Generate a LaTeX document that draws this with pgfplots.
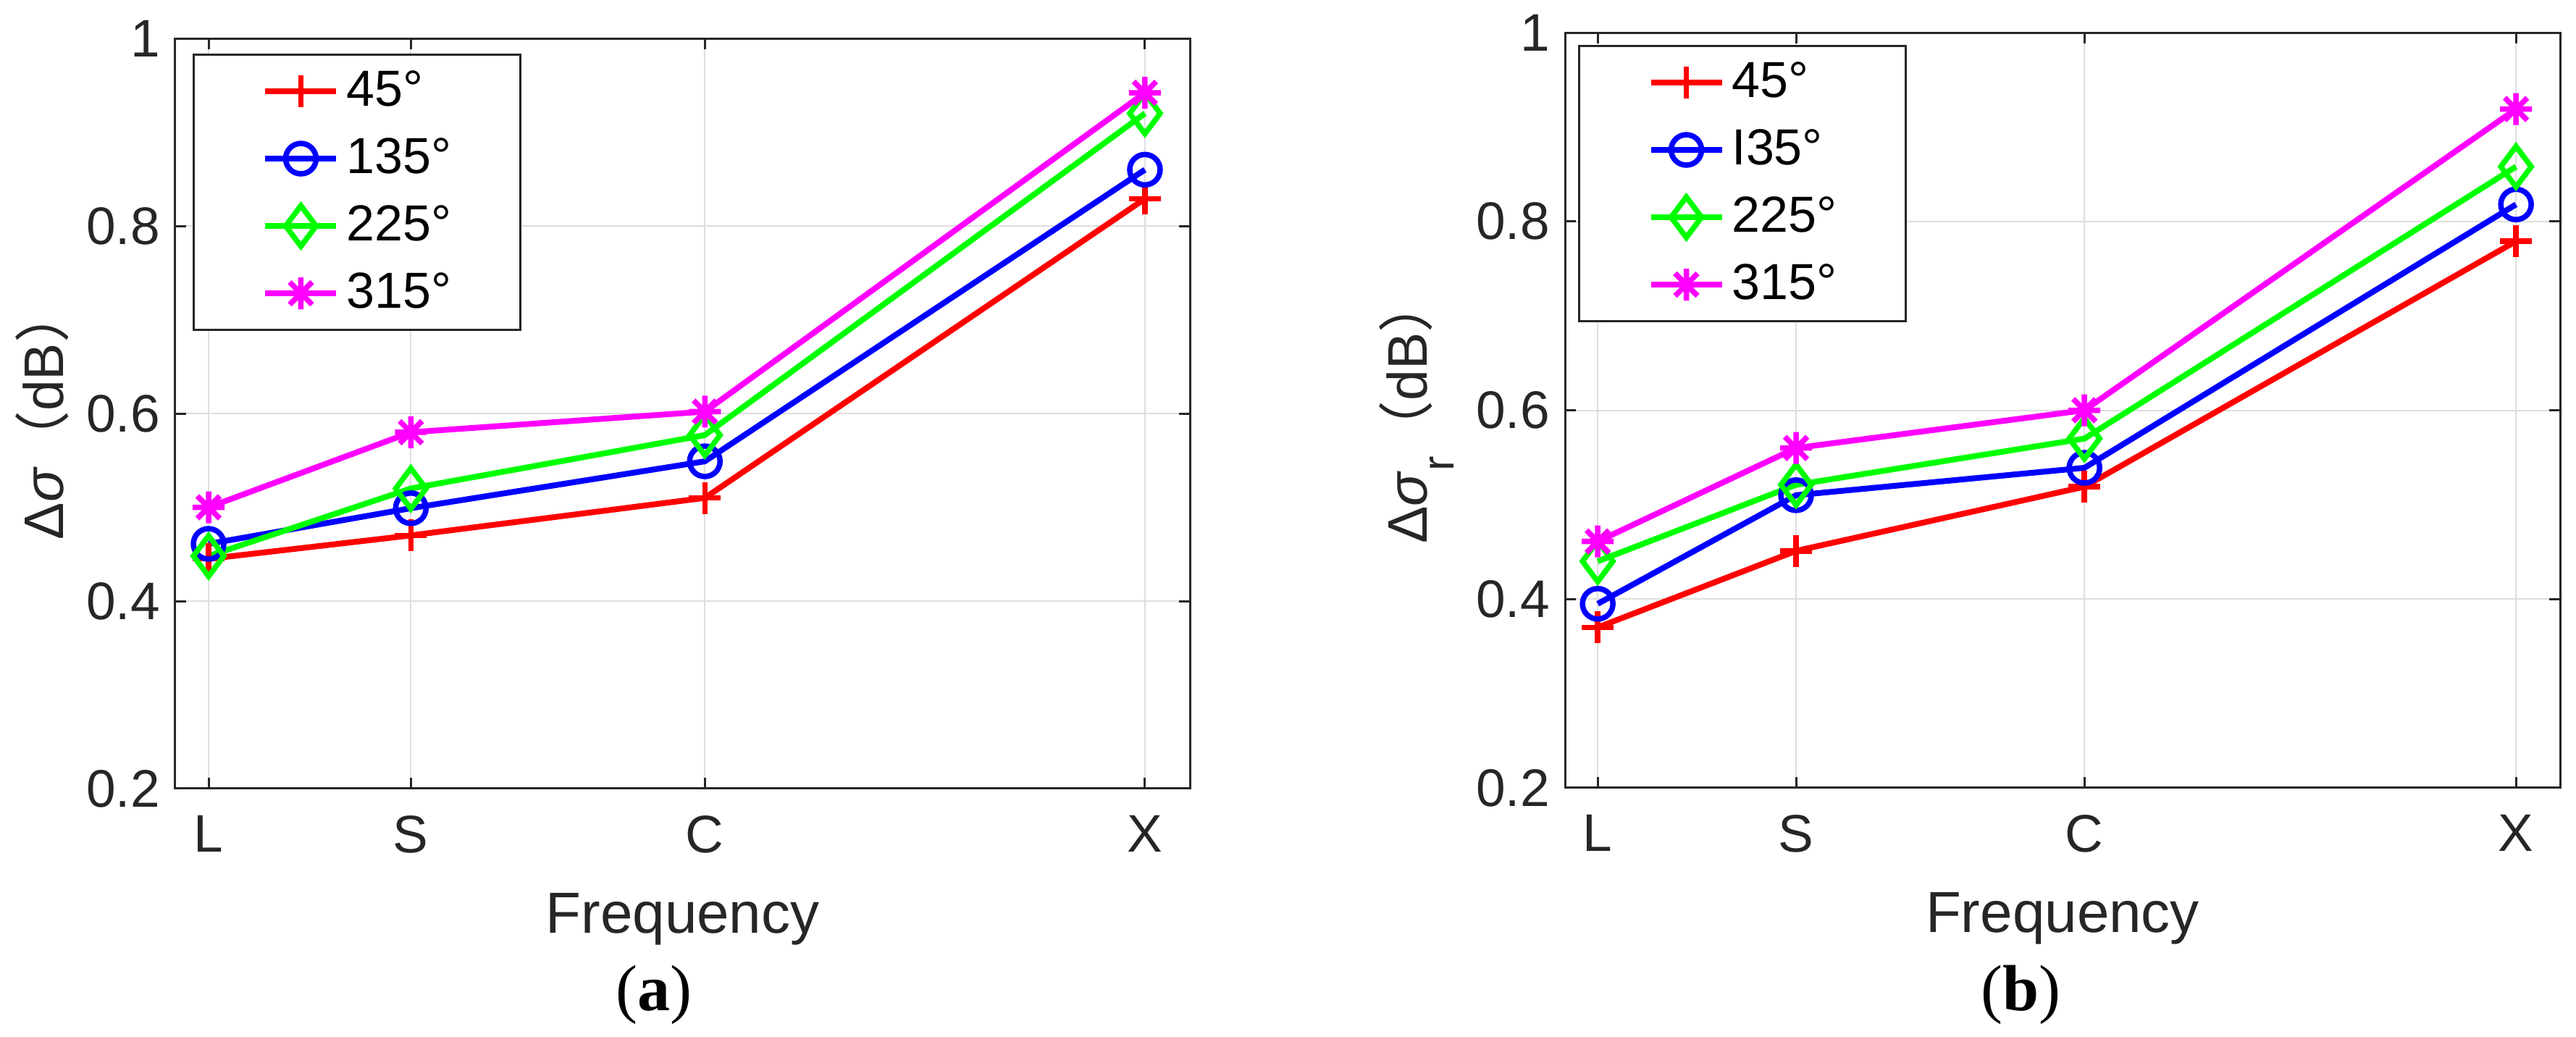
\documentclass[border=0pt]{standalone}
\usepackage{pgfplots}
\pgfplotsset{compat=1.18}
\usepackage{fontspec}
\setmainfont{Liberation Sans}
\newfontfamily\cjk{Noto Sans CJK SC}
\newfontfamily\serif{Liberation Serif}
\definecolor{axc}{RGB}{38,38,38}
\definecolor{grd}{RGB}{222,222,222}
\definecolor{cred}{RGB}{255,0,0}
\definecolor{cblue}{RGB}{0,0,255}
\definecolor{cgreen}{RGB}{0,255,0}
\definecolor{cmag}{RGB}{255,0,255}

\pgfdeclareplotmark{mast}{%
  \pgfpathmoveto{\pgfqpoint{0pt}{\pgfplotmarksize}}\pgfpathlineto{\pgfqpoint{0pt}{-\pgfplotmarksize}}%
  \pgfpathmoveto{\pgfqpoint{\pgfplotmarksize}{0pt}}\pgfpathlineto{\pgfqpoint{-\pgfplotmarksize}{0pt}}%
  \pgfpathmoveto{\pgfqpoint{.7071\pgfplotmarksize}{.7071\pgfplotmarksize}}\pgfpathlineto{\pgfqpoint{-.7071\pgfplotmarksize}{-.7071\pgfplotmarksize}}%
  \pgfpathmoveto{\pgfqpoint{.7071\pgfplotmarksize}{-.7071\pgfplotmarksize}}\pgfpathlineto{\pgfqpoint{-.7071\pgfplotmarksize}{.7071\pgfplotmarksize}}%
  \pgfusepathqstroke}

% x positions: L, S, C, X (relative positions along the frequency axis)
\pgfplotstableread{
x     a45    a135   a225   a315
0     0.445  0.461  0.448  0.500
0.216 0.470  0.499  0.520  0.580
0.530 0.510  0.549  0.577  0.602
1     0.829  0.860  0.920  0.942
}\dataA
\pgfplotstableread{
x     b45    b135   b225   b315
0     0.370  0.395  0.440  0.461
0.216 0.451  0.510  0.521  0.560
0.530 0.519  0.539  0.570  0.600
1     0.779  0.818  0.858  0.919
}\dataB

\pgfplotsset{
  mystyle/.style={
    scale only axis,
    anchor=south west,
    clip=false,
    xmin=-0.0356, xmax=1.048, ymin=0.2, ymax=1,
    xtick={0,0.216,0.530,1}, xticklabels={L,S,C,X},
    ytick={0.2,0.4,0.6,0.8,1}, yticklabels={0.2,0.4,0.6,0.8,1},
    /pgf/number format/assume math mode=true,
    tick align=inside, tick pos=both, major tick length=3pt,
    grid=major, major grid style={grd, line width=0.4pt},
    axis line style={axc, line width=0.6pt},
    tick style={axc, line width=0.6pt},
    tick label style={font=\fontsize{14.6}{14.6}\selectfont, text=axc},
    xticklabel style={yshift=-3.9pt},
    yticklabel style={xshift=-0.7pt},
    xlabel={Frequency},
    xlabel style={at={(axis description cs:0.5,0)}, anchor=base, yshift=-39.8pt,
      font=\fontsize{16}{16}\selectfont, text=axc},
    legend cell align=left,
    legend style={anchor=north west, draw=axc, line width=0.6pt,
      inner xsep=19pt, inner ysep=3.6pt, row sep=5.6pt, column sep=2pt,
      font=\fontsize{14}{14}\selectfont, nodes={inner sep=0pt, anchor=west}},
    legend image code/.code={%
      \path[draw=none, fill=none] (0pt,-6.5pt) rectangle (19.6pt,6.5pt);
      \draw[mark repeat=2,mark phase=2,##1] plot coordinates {(0pt,0pt) (9.8pt,0pt) (19.6pt,0pt)};
    },
  },
  s45/.style={cred, line width=1.6pt, mark=+, mark size=4.4pt, mark options={solid, line width=1.5pt}},
  s135/.style={cblue, line width=1.6pt, mark=o, mark size=4.2pt, mark options={solid, line width=1.5pt}},
  s225/.style={cgreen, line width=1.6pt, mark=diamond, mark size=5.6pt, mark options={solid, line width=1.5pt}},
  s315/.style={cmag, line width=1.6pt, mark=mast, mark size=4.4pt, mark options={solid, line width=1.5pt}},
}

\begin{document}
\begin{tikzpicture}
\path[use as bounding box] (0pt,0pt) rectangle (711.4pt,286.2pt);

\begin{axis}[mystyle,
  at={(48.4pt,68.4pt)}, width=280.2pt, height=207.2pt,
  ylabel={Δ\textit{σ}{\cjk （}dB{\cjk ）}},
  ylabel style={at={(axis description cs:-0.1106,0.5)}, anchor=base,
    font=\fontsize{15.4}{15.4}\selectfont, text=axc},
  legend style={at={(0.0171,0.9797)}},
]
\addplot[s45] table[x=x,y=a45] {\dataA};
\addlegendentry{45°}
\addplot[s135] table[x=x,y=a135] {\dataA};
\addlegendentry{135°}
\addplot[s225] table[x=x,y=a225] {\dataA};
\addlegendentry{225°}
\addplot[s315] table[x=x,y=a315] {\dataA};
\addlegendentry{315°}
\end{axis}

\begin{axis}[mystyle,
  at={(432.2pt,68.6pt)}, width=274.8pt, height=208.6pt,
  ylabel={Δ\textit{σ}\raisebox{-7.4pt}{\fontsize{12.3}{12.3}\selectfont r}{\cjk （}dB{\cjk ）}},
  ylabel style={at={(axis description cs:-0.139,0.5)}, anchor=base,
    font=\fontsize{15.4}{15.4}\selectfont, text=axc},
  legend style={at={(0.0131,0.9837)}},
]
\addplot[s45] table[x=x,y=b45] {\dataB};
\addlegendentry{45°}
\addplot[s135] table[x=x,y=b135] {\dataB};
\addlegendentry{I35°}
\addplot[s225] table[x=x,y=b225] {\dataB};
\addlegendentry{225°}
\addplot[s315] table[x=x,y=b315] {\dataB};
\addlegendentry{315°}
\end{axis}

\node[anchor=base, font=\serif\fontsize{18}{18}\selectfont] at (180.6pt,7.2pt) {(\textbf{a})};
\node[anchor=base, font=\serif\fontsize{18}{18}\selectfont] at (558pt,7.2pt) {(\textbf{b})};
\end{tikzpicture}
\end{document}
